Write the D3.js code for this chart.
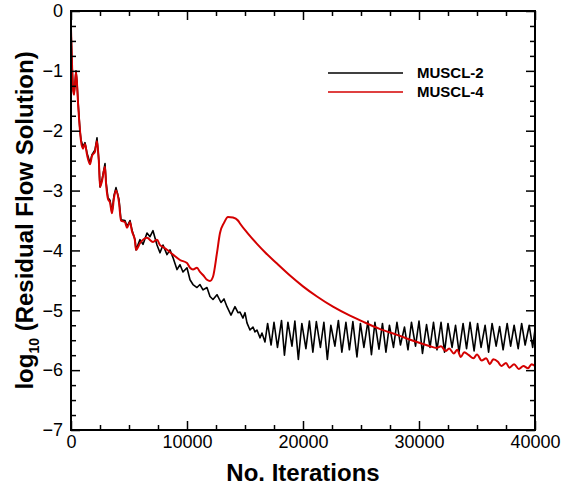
<!DOCTYPE html>
<html>
<head>
<meta charset="utf-8">
<script src="https://cdn.jsdelivr.net/npm/d3@7"></script>
<style>
  body { margin: 0; background: #fff; }
  text { font-family: "Liberation Sans", Arial, Helvetica, sans-serif; }
</style>
</head>
<body>
<div id="chart"></div>
<script>
// data: [iteration, log10 residual]
var muscl2 = [
  [0,-0.3],[90,-0.9],[180,-1.3],[260,-1.38],[350,-1.2],[431,-1.0],[520,-1.2],[603,-1.5],[776,-2.0],
  [862,-2.15],[1034,-2.27],[1207,-2.2],[1379,-2.37],[1638,-2.54],[1810,-2.4],[2069,-2.32],[2241,-2.12],
  [2414,-2.54],[2500,-2.94],[2672,-2.82],[2931,-2.55],[3017,-2.85],[3189,-3.12],[3362,-3.16],[3534,-3.36],
  [3707,-3.08],[3879,-2.95],[4138,-3.15],[4310,-3.49],[4655,-3.5],[4827,-3.6],[5086,-3.5],[5258,-3.66],
  [5517,-3.82],[5603,-3.99],[5948,-3.82],[6206,-3.9],[6551,-3.71],[6810,-3.77],[7068,-3.67],[7413,-3.91],
  [7672,-4.04],[7930,-3.91],[8275,-4.07],[8534,-3.99],[8792,-4.12],[9137,-4.32],[9396,-4.24],[9654,-4.36],
  [9999,-4.29],[10258,-4.49],[10516,-4.57],[10861,-4.62],[11120,-4.57],[11378,-4.66],[11723,-4.62],
  [11982,-4.77],[12240,-4.82],[12585,-4.74],[12930,-4.87],[13189,-4.81],[13447,-4.94],[13792,-5.08],
  [14137,-4.94],[14395,-5.04],[14568,-5.03],[14826,-5.13],[14999,-5.04],[15171,-5.21],[15430,-5.33],
  [15689,-5.28],[15861,-5.36],[16033,-5.33],[16292,-5.46],[16464,-5.38],[16723,-5.53],
  [16950,-5.22],[17250,-5.58],[17500,-5.2],[17800,-5.62],[18150,-5.17],[18400,-5.75],[18700,-5.2],
  [19050,-5.6],[19300,-5.18],[19600,-5.82],[19900,-5.22],[20250,-5.64],[20550,-5.18],[20850,-5.7],
  [21150,-5.19],[21500,-5.62],[21800,-5.2],[22100,-5.82],[22400,-5.25],[22750,-5.6],[23050,-5.17],
  [23350,-5.7],[23700,-5.2],[24000,-5.66],[24300,-5.19],[24650,-5.78],[24950,-5.22],[25250,-5.62],
  [25600,-5.18],[25900,-5.74],[26200,-5.2],[26550,-5.65],[26850,-5.22],[27150,-5.7],[27450,-5.25],
  [27800,-5.62],[28100,-5.2],[28400,-5.58],[28750,-5.28],[29050,-5.66],[29350,-5.2],[29700,-5.6],
  [30000,-5.18],[30300,-5.72],[30650,-5.24],[30950,-5.62],[31250,-5.2],[31550,-5.66],[31900,-5.2],
  [32200,-5.7],[32500,-5.22],[32850,-5.62],[33150,-5.25],[33450,-5.7],[33800,-5.22],[34100,-5.64],
  [34400,-5.2],[34750,-5.68],[35050,-5.22],[35350,-5.62],[35700,-5.25],[36000,-5.7],[36300,-5.22],
  [36650,-5.6],[36950,-5.27],[37250,-5.66],[37600,-5.22],[37900,-5.6],[38200,-5.25],[38550,-5.64],
  [38850,-5.22],[39150,-5.58],[39500,-5.25],[39800,-5.62],[40000,-5.32]
];
var muscl4 = [
  [0,-0.3],[90,-0.9],[180,-1.32],[260,-1.4],[350,-1.2],[431,-1.02],[520,-1.22],[603,-1.52],[776,-2.0],
  [862,-2.17],[1034,-2.3],[1207,-2.22],[1379,-2.4],[1638,-2.56],[1810,-2.42],[2069,-2.35],[2241,-2.17],
  [2414,-2.56],[2500,-2.94],[2672,-2.84],[2931,-2.6],[3017,-2.87],[3189,-3.14],[3362,-3.2],[3534,-3.38],
  [3707,-3.12],[3879,-3.0],[4138,-3.2],[4310,-3.5],[4655,-3.53],[4827,-3.62],[5086,-3.53],[5258,-3.68],
  [5517,-3.84],[5603,-3.99],[5948,-3.88],[6551,-3.79],[7068,-3.86],[7413,-3.82],[7672,-3.91],
  [7930,-3.94],[8275,-3.99],[8792,-4.07],[9396,-4.16],[9999,-4.21],[10258,-4.29],[10516,-4.32],
  [10861,-4.29],[11120,-4.36],[11378,-4.41],[11723,-4.49],[11982,-4.51],[12240,-4.44],[12585,-4.04],
  [12844,-3.71],[13189,-3.54],[13533,-3.44],[13964,-3.45],[14395,-3.5],[14568,-3.55],[15257,-3.72],
  [16033,-3.89],[16723,-4.03],[17757,-4.22],[18878,-4.42],[19998,-4.6],[21205,-4.77],[22584,-4.94],
  [24050,-5.09],[25170,-5.19],[26600,-5.31],[28101,-5.41],[29500,-5.51],[30946,-5.6],[31500,-5.63],
  [31900,-5.6],[32300,-5.68],[32600,-5.64],[33000,-5.72],[33300,-5.66],[33600,-5.78],[33900,-5.7],
  [34300,-5.75],[34700,-5.8],[35000,-5.74],[35400,-5.84],[35800,-5.8],[36100,-5.9],[36400,-5.82],
  [36800,-5.86],[37100,-5.93],[37500,-5.88],[37800,-5.96],[38200,-5.9],[38600,-5.98],[39000,-5.93],
  [39400,-5.97],[39700,-5.9],[40000,-5.93]
];
var xMajor = [0, 10000, 20000, 30000, 40000],
    xMinor = [2500, 5000, 7500, 12500, 15000, 17500, 22500, 25000, 27500, 32500, 35000, 37500],
    yMajor = [0, -1, -2, -3, -4, -5, -6, -7],
    yMinor = [];
for (var i = 0; i < 7; i++) { yMinor.push(-i - 0.25, -i - 0.5, -i - 0.75); }
var series = [
  {name: "MUSCL-2", data: muscl2, color: "#000000", width: 1.6, curve: d3.curveLinear},
  {name: "MUSCL-4", data: muscl4, color: "#d40000", width: 2, curve: d3.curveMonotoneX}
];

//layout
var W = 566, H = 487,
    m = {l: 71, r: 31, t: 11, b: 57},
    pw = W - m.l - m.r, ph = H - m.t - m.b;

var svg = d3.select("#chart").append("svg").attr("width", W).attr("height", H);
var g = svg.append("g").attr("transform", "translate(" + m.l + "," + m.t + ")");

var x = d3.scaleLinear().domain([0, 40000]).range([0, pw]),
    y = d3.scaleLinear().domain([-7, 0]).range([ph, 0]);

//lines
series.forEach(function(s) {
  var line = d3.line().curve(s.curve)
               .x(function(d) { return x(d[0]); }).y(function(d) { return y(d[1]); });
  g.append("path").datum(s.data).attr("fill", "none").attr("stroke", s.color)
   .attr("stroke-width", s.width).attr("stroke-linejoin", "round").attr("d", line);
});

//axes
function styleAxis(sel) {
  sel.select(".domain").remove();
  sel.selectAll(".tick line").attr("stroke", "#000").attr("stroke-width", 1.5);
}
g.append("g").attr("transform", "translate(0," + ph + ")")
 .call(d3.axisBottom(x).tickValues(xMajor).tickSize(-9).tickPadding(5).tickFormat(d3.format("d")))
 .call(styleAxis)
 .selectAll("text").attr("font-size", 18).attr("fill", "#000");
g.append("g").attr("transform", "translate(0," + ph + ")")
 .call(d3.axisBottom(x).tickValues(xMinor).tickSize(-5).tickFormat("")).call(styleAxis);
g.append("g").call(d3.axisTop(x).tickValues(xMajor).tickSize(-9).tickFormat("")).call(styleAxis);
g.append("g").call(d3.axisTop(x).tickValues(xMinor).tickSize(-5).tickFormat("")).call(styleAxis);

g.append("g")
 .call(d3.axisLeft(y).tickValues(yMajor).tickSize(-9).tickPadding(8).tickFormat(d3.format("d")))
 .call(styleAxis)
 .selectAll("text").attr("font-size", 18).attr("fill", "#000");
g.append("g").call(d3.axisLeft(y).tickValues(yMinor).tickSize(-5).tickFormat("")).call(styleAxis);
g.append("g").attr("transform", "translate(" + pw + ",0)")
 .call(d3.axisRight(y).tickValues(yMajor).tickSize(-9).tickFormat("")).call(styleAxis);
g.append("g").attr("transform", "translate(" + pw + ",0)")
 .call(d3.axisRight(y).tickValues(yMinor).tickSize(-5).tickFormat("")).call(styleAxis);

//frame
g.append("rect").attr("x", 0).attr("y", 0).attr("width", pw).attr("height", ph)
 .attr("fill", "none").attr("stroke", "#000").attr("stroke-width", 2);

//titles
svg.append("text").attr("x", m.l + pw / 2).attr("y", 481).attr("text-anchor", "middle")
   .attr("font-size", 24).attr("font-weight", "bold").text("No. Iterations");
var yt = svg.append("text").attr("transform", "translate(33," + (m.t + ph / 2) + ") rotate(-90)")
   .attr("text-anchor", "middle").attr("font-size", 24).attr("font-weight", "bold");
yt.append("tspan").text("log");
yt.append("tspan").attr("font-size", 14).attr("dy", 6).text("10");
yt.append("tspan").attr("dy", -6).text(" (Residual Flow Solution)");

//legend
var leg = svg.append("g").attr("transform", "translate(328,73)");
series.forEach(function(s, k) {
  leg.append("line").attr("x1", 0).attr("x2", 75).attr("y1", k * 19).attr("y2", k * 19)
     .attr("stroke", s.color).attr("stroke-width", 1.5);
  leg.append("text").attr("x", 89).attr("y", k * 19 + 5).attr("font-size", 15)
     .attr("font-weight", "bold").text(s.name);
});
</script>
</body>
</html>
